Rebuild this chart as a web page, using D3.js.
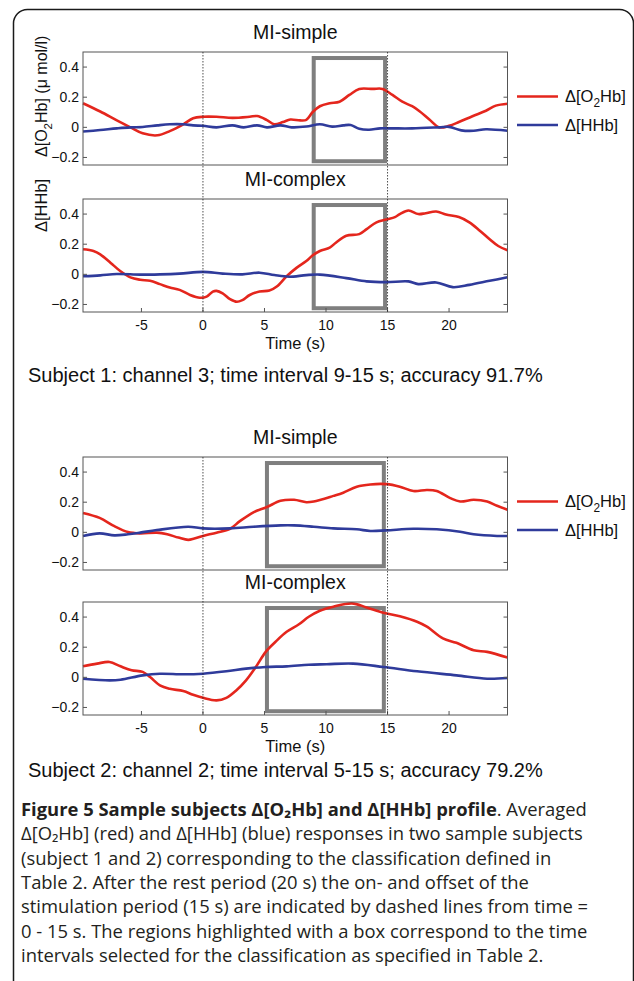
<!DOCTYPE html>
<html>
<head>
<meta charset="utf-8">
<script src="https://cdn.jsdelivr.net/npm/d3@7"></script>
<style>
body { margin: 0; background: #fff; }
svg { display: block; }
</style>
</head>
<body>
<div id="chart"></div>
<script>
width = 634
height = 981

// values: [time (s), change (umol/l)]
let s1SimpleO2Hb = [[-9.75,0.16],[-8.35,0.105],[-7,0.046],[-5.9,0.0],[-4.9,-0.04],[-3.7,-0.053],[-2.7,-0.025],[-1.6,0.02],[-0.8,0.06],[0,0.07],[1.1,0.07],[2.4,0.063],[3.8,0.07],[4.4,0.075],[5.2,0.048],[5.8,0.02],[6.5,0.035],[7.1,0.052],[7.9,0.046],[8.4,0.05],[8.9,0.1],[9.5,0.14],[10.3,0.16],[11.1,0.17],[11.9,0.215],[12.7,0.255],[13.8,0.255],[14.6,0.255],[15.4,0.215],[16.2,0.17],[17.0,0.14],[17.6,0.107],[18.4,0.052],[19.2,0.0],[20.0,0.01],[20.8,0.035],[21.9,0.074],[23.0,0.11],[23.8,0.144],[24.75,0.157]]
let s1SimpleHHb = [[-9.75,-0.028],[-8.35,-0.018],[-7,-0.007],[-5.9,0],[-4.9,0.002],[-3.7,0.013],[-2.7,0.02],[-1.6,0.02],[-0.8,0.013],[0,0.01],[1.1,0],[2.4,0.013],[3.3,0],[4.4,0.013],[5.2,0],[6.3,0.013],[7.2,0],[8.4,0.005],[9.5,0.02],[10.5,0.005],[11.4,0.013],[12,0.015],[12.7,-0.01],[13.5,-0.016],[14.4,-0.007],[15.4,-0.007],[17,-0.007],[19.2,0],[20,0.003],[21,-0.02],[22,-0.023],[23,-0.013],[24.75,-0.023]]
let s1ComplexO2Hb = [[-9.75,0.166],[-8.9,0.155],[-8.35,0.133],[-7.5,0.076],[-6.7,0.02],[-5.9,-0.02],[-5.1,-0.036],[-4.3,-0.043],[-3.5,-0.065],[-2.7,-0.088],[-1.9,-0.103],[-1.05,-0.137],[-0.25,-0.155],[0.3,-0.148],[0.8,-0.115],[1.1,-0.11],[1.6,-0.126],[2.2,-0.164],[2.75,-0.182],[3.2,-0.171],[3.8,-0.137],[4.6,-0.114],[5.4,-0.108],[6.0,-0.081],[6.8,-0.013],[7.6,0.043],[8.4,0.088],[8.9,0.125],[9.5,0.155],[10.3,0.177],[10.8,0.21],[11.65,0.256],[12.7,0.267],[13.3,0.30],[14.1,0.345],[14.9,0.364],[15.6,0.38],[16,0.40],[16.7,0.424],[17.5,0.40],[18.1,0.406],[18.95,0.417],[19.75,0.397],[20.8,0.38],[21.65,0.345],[22.5,0.29],[23.3,0.233],[24,0.188],[24.75,0.16]]
let s1ComplexHHb = [[-9.75,-0.013],[-8.35,-0.007],[-7,0.002],[-5.1,-0.002],[-3.5,0],[-1.9,0.005],[0,0.016],[1.6,0.005],[3.2,0],[4.6,0.011],[5.8,-0.005],[7.0,-0.016],[8.4,-0.005],[9.5,-0.002],[11.65,-0.025],[13.3,-0.047],[14.9,-0.052],[16.7,-0.047],[17.5,-0.065],[18.95,-0.054],[20.3,-0.085],[21.65,-0.07],[23.3,-0.043],[24.75,-0.02]]
let s2SimpleO2Hb = [[-9.75,0.129],[-8.4,0.096],[-7.2,0.041],[-6.1,0.002],[-5.1,-0.007],[-3.75,-0.002],[-2.9,-0.013],[-2.0,-0.035],[-1.2,-0.05],[-0.7,-0.041],[0,-0.024],[1.1,-0.002],[2.2,0.024],[3.0,0.074],[4.1,0.133],[5.2,0.168],[6.3,0.209],[7.4,0.216],[8.4,0.2],[9.0,0.205],[10.6,0.242],[11.4,0.263],[12.5,0.303],[13.6,0.318],[14.9,0.32],[16,0.303],[17.1,0.274],[18.2,0.281],[19,0.274],[20.1,0.227],[20.9,0.205],[22,0.216],[23.1,0.205],[23.9,0.176],[24.75,0.15]]
let s2SimpleHHb = [[-9.75,-0.024],[-8.4,-0.007],[-7.2,-0.02],[-6.1,-0.013],[-5.1,-0.002],[-3.75,0.015],[-1.2,0.037],[0,0.026],[2.2,0.026],[4.1,0.037],[6.3,0.046],[7.4,0.046],[9.0,0.037],[10.6,0.026],[12.5,0.02],[13.6,0.009],[14.9,0.013],[17.1,0.024],[19,0.02],[20.9,0.004],[22,-0.013],[23.9,-0.024],[24.75,-0.024]]
let s2ComplexO2Hb = [[-9.75,0.073],[-8.6,0.091],[-7.6,0.102],[-6.7,0.073],[-5.8,0.047],[-4.9,0.036],[-4.3,0.002],[-3.5,-0.053],[-2.7,-0.076],[-1.6,-0.091],[-0.8,-0.116],[0,-0.136],[1.1,-0.153],[1.9,-0.136],[2.7,-0.087],[3.5,-0.02],[4.3,0.069],[5.1,0.169],[5.9,0.236],[6.8,0.302],[7.8,0.352],[8.6,0.402],[9.5,0.442],[10.6,0.469],[12.1,0.491],[13.3,0.464],[14.66,0.429],[16,0.405],[17.4,0.369],[18.2,0.336],[19.5,0.258],[20.6,0.229],[22,0.18],[23.1,0.169],[24.75,0.131]]
let s2ComplexHHb = [[-9.75,-0.009],[-7.6,-0.02],[-6.7,-0.016],[-4.9,0.013],[-3.5,0.024],[-1.6,0.02],[0,0.024],[1.9,0.04],[3.5,0.058],[5.1,0.069],[6.8,0.073],[8.6,0.084],[10.05,0.087],[12.2,0.091],[14.66,0.069],[17.4,0.04],[20.6,0.013],[23.1,-0.009],[24.75,-0.004]]

let xDomain = [-9.75, 24.75]
let yDomain = [-0.25, 0.5]
let xTicks = [-5, 0, 5, 10, 15, 20]
let yTicks = [-0.2, 0, 0.2, 0.4]
let stimMarkers = [0, 15]
let conditions = ["MI-simple", "MI-complex"]
let subjectLabels = [
    "Subject 1: channel 3; time interval 9-15 s; accuracy 91.7%",
    "Subject 2: channel 2; time interval 5-15 s; accuracy 79.2%"
]
let boxIntervals = [[9.0, 14.8], [5.2, 14.7]]
let boxRange = [-0.225, 0.46]

let captionBold = "Figure 5 Sample subjects Δ[O₂Hb] and Δ[HHb] profile"
let captionLines = [
    "Δ[O₂Hb] (red) and Δ[HHb] (blue) responses in two sample subjects",
    "(subject 1 and 2) corresponding to the classification defined in",
    "Table 2. After the rest period (20 s) the on- and offset of the",
    "stimulation period (15 s) are indicated by dashed lines from time =",
    "0 - 15 s. The regions highlighted with a box correspond to the time",
    "intervals selected for the classification as specified in Table 2."
]

let red = "#e4261d"
let blue = "#2f3b9b"
let chartFont = "'Liberation Sans', Arial, Helvetica, sans-serif"
let captionFont = "'Open Sans', 'Noto Sans', 'DejaVu Sans', sans-serif"

let svg = d3.select("#chart")
    .append("svg")
    .attr("width", width)
    .attr("height", height)

// rounded frame, open at the bottom
svg.append("path")
    .attr("d", "M13.5,981 V24 A14,14 0 0 1 27.5,9.5 H619.5 A14,14 0 0 1 633.5,24 V981")
    .attr("fill", "none")
    .attr("stroke", "#1a1a1a")
    .attr("stroke-width", 1.5)

let x = d3.scaleLinear().domain(xDomain).range([83, 507.5])
let panelH = 113

let subjects = [
    { tops: [52, 199], captionY: 382, series: [[s1SimpleO2Hb, s1SimpleHHb], [s1ComplexO2Hb, s1ComplexHHb]] },
    { tops: [457, 602], captionY: 777, series: [[s2SimpleO2Hb, s2SimpleHHb], [s2ComplexO2Hb, s2ComplexHHb]] }
]

function subO2Hb(sel) {
    sel.append("tspan").text("Δ[O")
    sel.append("tspan").attr("dy", 5).style("font-size", "0.72em").text("2")
    sel.append("tspan").attr("dy", -5).text("Hb]")
}

subjects.forEach((subj, si) => {
    subj.tops.forEach((top, pi) => {
        let y = d3.scaleLinear().domain(yDomain).range([top + panelH, top])
        let g = svg.append("g")

        g.append("text")
            .attr("x", (x.range()[0] + x.range()[1]) / 2)
            .attr("y", top - 13)
            .attr("text-anchor", "middle")
            .style("font-family", chartFont)
            .style("font-size", "19.5px")
            .attr("fill", "#111")
            .text(conditions[pi])

        // selection box
        let bx = boxIntervals[si]
        g.append("rect")
            .attr("x", x(bx[0]))
            .attr("y", y(boxRange[1]))
            .attr("width", x(bx[1]) - x(bx[0]))
            .attr("height", y(boxRange[0]) - y(boxRange[1]))
            .attr("fill", "none")
            .attr("stroke", "#7f7f7f")
            .attr("stroke-width", 4)

        let line = d3.line()
            .x(d => x(d[0]))
            .y(d => y(d[1]))
            .curve(d3.curveCatmullRom)

        subj.series[pi].forEach((s, k) => {
            g.append("path")
                .datum(s)
                .attr("d", line)
                .attr("fill", "none")
                .attr("stroke", k == 0 ? red : blue)
                .attr("stroke-width", 2.6)
        })

        // box outline of the axes
        g.append("rect")
            .attr("x", x.range()[0])
            .attr("y", top)
            .attr("width", x.range()[1] - x.range()[0])
            .attr("height", panelH)
            .attr("fill", "none")
            .attr("stroke", "#555")
            .attr("stroke-width", 1)

        // y ticks, left and right, pointing inward
        yTicks.forEach(t => {
            g.append("line")
                .attr("x1", x.range()[0]).attr("x2", x.range()[0] + 4)
                .attr("y1", y(t)).attr("y2", y(t))
                .attr("stroke", "#555")
            g.append("line")
                .attr("x1", x.range()[1] - 4).attr("x2", x.range()[1])
                .attr("y1", y(t)).attr("y2", y(t))
                .attr("stroke", "#555")
            g.append("text")
                .attr("x", x.range()[0] - 4)
                .attr("y", y(t) + 5)
                .attr("text-anchor", "end")
                .style("font-family", chartFont)
                .style("font-size", "14px")
                .attr("fill", "#111")
                .text(d3.format("~g")(t))
        })

        if (pi == 1) {
            xTicks.forEach(t => {
                g.append("line")
                    .attr("x1", x(t)).attr("x2", x(t))
                    .attr("y1", top + panelH).attr("y2", top + panelH - 4)
                    .attr("stroke", "#555")
                g.append("text")
                    .attr("x", x(t))
                    .attr("y", top + panelH + 17.5)
                    .attr("text-anchor", "middle")
                    .style("font-family", chartFont)
                    .style("font-size", "14px")
                    .attr("fill", "#111")
                    .text(t)
            })
            g.append("text")
                .attr("x", (x.range()[0] + x.range()[1]) / 2)
                .attr("y", top + panelH + 37)
                .attr("text-anchor", "middle")
                .style("font-family", chartFont)
                .style("font-size", "16.5px")
                .attr("fill", "#111")
                .text("Time (s)")
        }
    })

    svg.append("text")
        .attr("x", 28)
        .attr("y", subj.captionY)
        .style("font-family", chartFont)
        .style("font-size", "20px")
        .attr("fill", "#111")
        .text(subjectLabels[si])

    // stimulation on/offset markers across both panels
    stimMarkers.forEach(t => {
        svg.append("line")
            .attr("x1", x(t)).attr("x2", x(t))
            .attr("y1", subj.tops[0]).attr("y2", subj.tops[1] + panelH)
            .attr("stroke", "#222")
            .attr("stroke-width", 0.8)
            .attr("stroke-dasharray", "1.5,1.5")
    })

    // legend
    let top = subj.tops[0]
    let legendRows = [{ c: red, dy: 44.5 }, { c: blue, dy: 73 }]
    legendRows.forEach((r, i) => {
        svg.append("line")
            .attr("x1", 517).attr("x2", 558)
            .attr("y1", top + r.dy).attr("y2", top + r.dy)
            .attr("stroke", r.c)
            .attr("stroke-width", 2.6)
        let txt = svg.append("text")
            .attr("x", 565)
            .attr("y", top + r.dy + 5.5)
            .style("font-family", chartFont)
            .style("font-size", "16.5px")
            .attr("fill", "#111")
        if (i == 0) subO2Hb(txt)
        else txt.text("Δ[HHb]")
    })
})

// y axis label of subject 1 (reads bottom to top)
let yl1 = svg.append("text")
    .attr("transform", "translate(47,157) rotate(-90)")
    .style("font-family", chartFont)
    .style("font-size", "16px")
    .attr("fill", "#111")
subO2Hb(yl1)
yl1.append("tspan").text(" (μ mol/l)")

svg.append("text")
    .attr("transform", "translate(47,232) rotate(-90)")
    .style("font-family", chartFont)
    .style("font-size", "16.5px")
    .attr("fill", "#111")
    .text("Δ[HHb]")

// figure caption
let capSize = 18.4
let capLead = 24.3
let cap = svg.append("g")
    .style("font-family", captionFont)
    .style("font-size", capSize + "px")
    .attr("fill", "#231f20")

let first = cap.append("text").attr("x", 21).attr("y", 816)
first.append("tspan").style("font-weight", 700).text(captionBold)
first.append("tspan").text(". Averaged")

captionLines.forEach((l, i) => {
    cap.append("text")
        .attr("x", 21)
        .attr("y", 816 + (i + 1) * capLead)
        .text(l)
})
</script>
</body>
</html>
